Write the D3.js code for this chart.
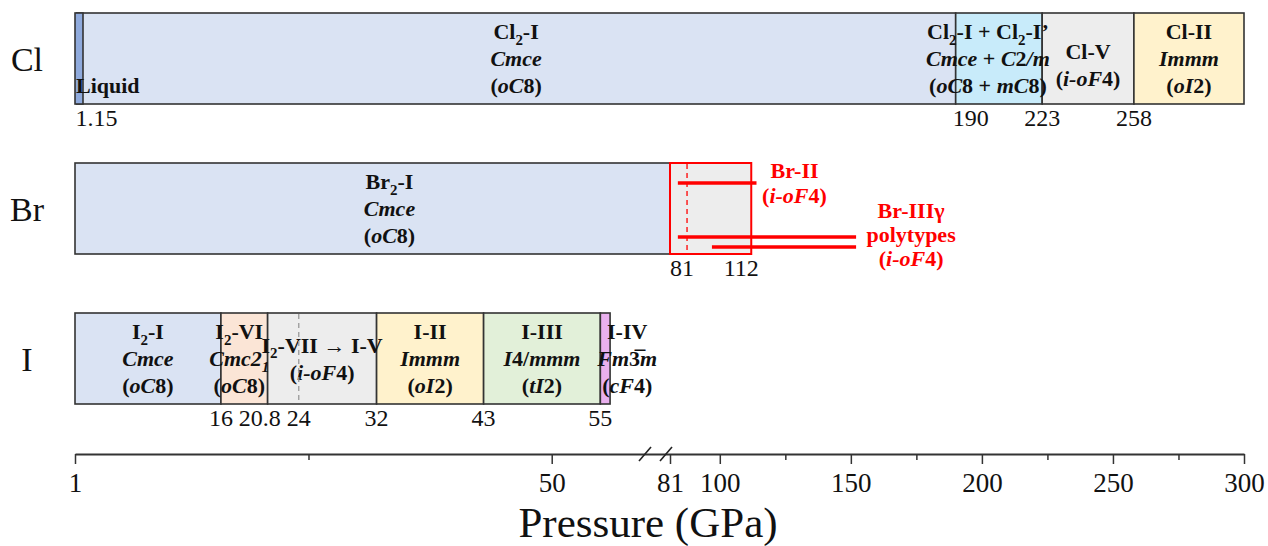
<!DOCTYPE html>
<html>
<head>
<meta charset="utf-8">
<script src="https://cdn.jsdelivr.net/npm/d3@7"></script>
<style>
  body { margin: 0; background: #ffffff; }
  svg { display: block; }
  svg text { font-family: "Liberation Serif", "Times New Roman", Times, serif; }
</style>
</head>
<body>
<svg id="chart" width="1268" height="546"></svg>
<script>
// ---- Data -------------------------------------------------------------
// Row labels (elements)
const elements = ["Cl", "Br", "I"];

// Broken pressure axis: [1, 60] then [81, 300] GPa
const axisDomain = [1, 60, 81, 300];
const majorTicks = [1, 50, 81, 100, 150, 200, 250, 300];
const minorTicks = [25, 125, 175, 225, 275];

// Chlorine phases: boundaries (GPa), names, space groups, Pearson symbols
const clBounds = [1, 1.15, 190, 223, 258, 300];
const clPhases = ["Liquid", "Cl_2-I", "Cl_2-I + Cl_2-I’", "Cl-V", "Cl-II"];
const clGroups = ["", "*Cmce*", "*Cmce* + *C*2*/m*", "", "*Immm*"];
const clPearson = ["", "(*oC*8)", "(*oC*8 + *mC*8)", "(*i-oF*4)", "(*oI*2)"];
const clMarked = [1.15, 190, 223, 258];

// Bromine phases
const brBounds = [1, 81];
const brPhases = ["Br_2-I"];
const brGroups = ["*Cmce*"];
const brPearson = ["(*oC*8)"];
const brIIBox = [81, 112];
const brMarked = [81, 112];
const brDashed = [87.5];
const brIIRange = [84, 114];
const brIIIRanges = [[84, 152], [97, 152]];
const brIILabel = ["Br-II", "(*i-oF*4)"];
const brIIILabel = ["Br-IIIγ", "polytypes", "(*i-oF*4)"];

// Iodine phases
const iBounds = [1, 16, 20.8, 32, 43, 55, 56];
const iPhases = ["I_2-I", "I_2-VI", "I_2-VII → I-V", "I-II", "I-III", "I-IV"];
const iGroups = ["*Cmce*", "*Cmc2_1*", "", "*Immm*", "*I*4/*mmm*", "*Fm*3\u0305*m*"];
const iPearson = ["(*oC*8)", "(*oC*8)", "(*i-oF*4)", "(*oI*2)", "(*tI*2)", "(*cF*4)"];
const iMarked = [16, 20.8, 24, 32, 43, 55];
const iDashed = [24];

// ---- Styles -----------------------------------------------------------
const SERIF = "'Liberation Serif', 'Times New Roman', Times, serif";
const fills = {
  "Liquid": "#8faadc",
  "Cl_2-I": "#dae3f3",
  "Cl_2-I + Cl_2-I’": "#c8ebfa",
  "Cl-V": "#ededed",
  "Cl-II": "#fff2cc",
  "Br_2-I": "#dae3f3",
  "I_2-I": "#dae3f3",
  "I_2-VI": "#fbe5d6",
  "I_2-VII → I-V": "#ededed",
  "I-II": "#fff2cc",
  "I-III": "#e2f0d9",
  "I-IV": "#e9b0ee"
};
// nudges for labels that sit off their box centre (px)
const labelDx = { "I-IV": 22, "I_2-VI": -5, "Br_2-I": 17, "Cl_2-I + Cl_2-I’": -11 };
const labelDy = { "Cl-V": 6 };
// anchoring of boundary value labels
const markStyle = {
  "1.15": { anchor: "start", dx: -1 },
  "190": { anchor: "start", dx: -3 },
  "81": { anchor: "start", dx: 0 },
  "112": { anchor: "middle", dx: -10 },
  "20.8": { anchor: "middle", dx: -8 }
};
const RED = "#ff0000";
const EDGE = "#333333";

// ---- Layout -----------------------------------------------------------
const svg = d3.select("#chart");
const x = d3.scaleLinear().domain(axisDomain).range([75, 649, 670, 1244]);
const rowY = d3.scalePoint().domain(elements).range([13, 313]);
const rowH = 91;
const lineGap = 27;

// Minimal rich text: *...* toggles italic, _c makes c a subscript
function richText(parent, str, px, py, opts) {
  const size = opts.size;
  const t = parent.append("text")
    .attr("x", px).attr("y", py)
    .attr("text-anchor", opts.anchor || "middle")
    .attr("font-family", SERIF)
    .attr("font-size", size)
    .attr("font-weight", opts.weight || "bold")
    .attr("fill", opts.color || "#111");
  const segs = [];
  let italic = false, cur = "";
  const flush = () => { if (cur) segs.push({ text: cur, italic, sub: false }); cur = ""; };
  for (let i = 0; i < str.length; i++) {
    const c = str[i];
    if (c === "*") { flush(); italic = !italic; continue; }
    if (c === "_") { flush(); segs.push({ text: str[i + 1], italic, sub: true }); i++; continue; }
    cur += c;
  }
  flush();
  const shift = size * 0.26;
  let lowered = false;
  segs.forEach(s => {
    const ts = t.append("tspan").text(s.text);
    if (s.italic) ts.attr("font-style", "italic");
    if (s.sub) {
      ts.attr("font-size", size * 0.68).attr("dy", shift);
      lowered = true;
    } else if (lowered) {
      ts.attr("dy", -shift);
      lowered = false;
    }
  });
  return t;
}

function drawRow(el, bounds, names, groups, pearson) {
  const top = rowY(el);
  const g = svg.append("g");
  const phases = names.map((n, i) => ({ name: n, from: bounds[i], to: bounds[i + 1], group: groups[i], pearson: pearson[i] }));
  g.selectAll("rect").data(phases).join("rect")
    .attr("x", d => x(d.from))
    .attr("y", top)
    .attr("width", d => Math.max(8, x(d.to) - x(d.from)))
    .attr("height", rowH)
    .attr("fill", d => fills[d.name])
    .attr("stroke", EDGE)
    .attr("stroke-width", 1.6)
    .filter(d => x(d.to) - x(d.from) < 8).raise();
  return { g, phases, top };
}

function drawPhaseLabels(g, phases, top) {
  const mid = top + rowH / 2;
  phases.forEach(d => {
    if (d.name === "Liquid") {
      richText(g, d.name, x(d.from) + 1, mid + lineGap + 7.5, { size: 22, anchor: "start" });
      return;
    }
    const lines = [d.name, d.group, d.pearson].filter(s => s);
    const cx = (x(d.from) + x(d.to)) / 2 + (labelDx[d.name] || 0);
    const y0 = mid - (lines.length - 1) * lineGap / 2 + (labelDy[d.name] || 0);
    lines.forEach((s, k) => richText(g, s, cx, y0 + k * lineGap + 7.5, { size: 22 }));
  });
}

function drawMarks(values, top) {
  values.forEach(v => {
    const st = markStyle[String(v)] || { anchor: "middle", dx: 0 };
    svg.append("text")
      .attr("x", x(v) + st.dx)
      .attr("y", top + rowH + 22)
      .attr("text-anchor", st.anchor)
      .attr("font-family", SERIF)
      .attr("font-size", 24)
      .attr("fill", "#111")
      .text(String(v));
  });
}

function drawDashed(values, top, color) {
  svg.selectAll(null).data(values).join("line")
    .attr("x1", d => x(d)).attr("x2", d => x(d))
    .attr("y1", top + 1).attr("y2", top + rowH - 1)
    .attr("stroke", color).attr("stroke-width", 1.3)
    .attr("stroke-dasharray", "5,4");
}

// ---- Chlorine ---------------------------------------------------------
const cl = drawRow("Cl", clBounds, clPhases, clGroups, clPearson);
drawPhaseLabels(cl.g, cl.phases, cl.top);
drawMarks(clMarked, cl.top);

// ---- Bromine ----------------------------------------------------------
const br = drawRow("Br", brBounds, brPhases, brGroups, brPearson);
drawPhaseLabels(br.g, br.phases, br.top);
svg.append("rect")
  .attr("x", x(brIIBox[0])).attr("y", br.top)
  .attr("width", x(brIIBox[1]) - x(brIIBox[0])).attr("height", rowH)
  .attr("fill", "#ededed").attr("stroke", RED).attr("stroke-width", 2);
drawDashed(brDashed, br.top, RED);
drawMarks(brMarked, br.top);

// Br-II and Br-IIIγ pressure ranges
const brLines = [{ r: brIIRange, dy: 20 }, { r: brIIIRanges[0], dy: 74 }, { r: brIIIRanges[1], dy: 84 }];
svg.selectAll(null).data(brLines).join("line")
  .attr("x1", d => x(d.r[0])).attr("x2", d => x(d.r[1]))
  .attr("y1", d => br.top + d.dy).attr("y2", d => br.top + d.dy)
  .attr("stroke", RED).attr("stroke-width", 3.5);
brIILabel.forEach((s, k) =>
  richText(svg, s, x(brIIRange[1]) + 38, br.top + 15 + k * 25, { size: 22, color: RED }));
brIIILabel.forEach((s, k) =>
  richText(svg, s, x(brIIIRanges[0][1]) + 55, br.top + 55 + k * 24, { size: 22, color: RED }));

// ---- Iodine -----------------------------------------------------------
const io = drawRow("I", iBounds, iPhases, iGroups, iPearson);
drawDashed(iDashed, io.top, "#9a9a9a");
drawPhaseLabels(io.g, io.phases, io.top);
drawMarks(iMarked, io.top);

// ---- Row labels -------------------------------------------------------
svg.selectAll(".rowlab").data(elements).join("text")
  .attr("class", "rowlab")
  .attr("x", 27)
  .attr("y", d => rowY(d) + rowH / 2 + 12)
  .attr("text-anchor", "middle")
  .attr("font-family", SERIF)
  .attr("font-size", 34)
  .attr("fill", "#111")
  .text(d => d);

// ---- Pressure axis ----------------------------------------------------
const axisY = 454;
const axisG = svg.append("g").attr("transform", `translate(0,${axisY})`)
  .call(d3.axisBottom(x).tickValues(majorTicks).tickSize(10).tickSizeOuter(0).tickFormat(d3.format("d")));
axisG.attr("font-family", SERIF);
axisG.select(".domain").attr("stroke", "#333").attr("stroke-width", 2);
axisG.selectAll(".tick line").attr("stroke", "#333").attr("stroke-width", 1.5);
axisG.selectAll(".tick text")
  .attr("y", 38).attr("dy", null)
  .attr("font-family", SERIF)
  .attr("font-size", 27).attr("fill", "#111");

const minorG = svg.append("g").attr("transform", `translate(0,${axisY})`)
  .call(d3.axisBottom(x).tickValues(minorTicks).tickSize(6).tickFormat(""));
minorG.select(".domain").remove();
minorG.selectAll(".tick line").attr("stroke", "#333").attr("stroke-width", 1.5);

// break marks
[x(axisDomain[1]) - 4, x(axisDomain[2]) - 4].forEach(bx => {
  svg.append("line")
    .attr("x1", bx - 6).attr("y1", axisY + 7)
    .attr("x2", bx + 6).attr("y2", axisY - 7)
    .attr("stroke", "#222").attr("stroke-width", 1.6);
});

svg.append("text")
  .attr("x", 648).attr("y", 537)
  .attr("text-anchor", "middle")
  .attr("font-family", SERIF)
  .attr("font-size", 43)
  .attr("fill", "#111")
  .text("Pressure (GPa)");
</script>
</body>
</html>
